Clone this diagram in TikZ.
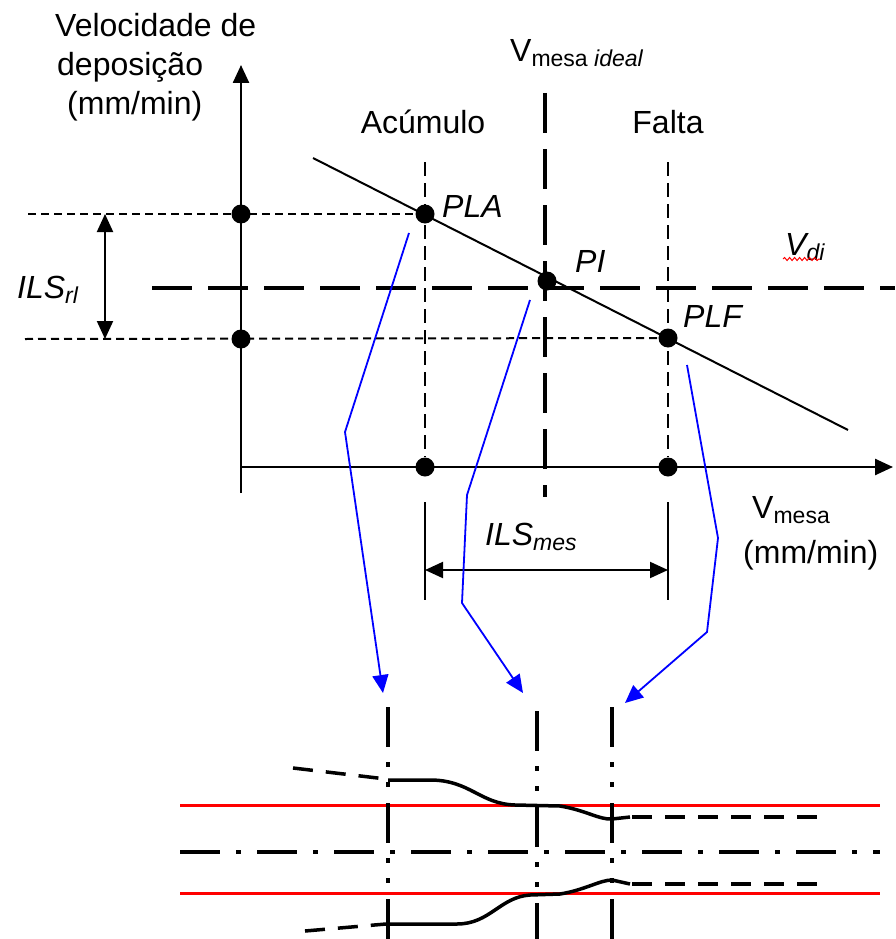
\documentclass[tikz,border=0pt]{standalone}
\usepackage{fontspec}
\setmainfont{Liberation Sans}
\usepackage{tikz}
\usetikzlibrary{arrows.meta, positioning, decorations.pathmorphing}
\newcommand{\lsub}[1]{\raisebox{-5pt}{\fontsize{23}{23}\selectfont #1}}
\tikzset{
  txt/.style={font=\fontsize{32}{38}\selectfont, inner sep=0pt, anchor=base west},
  itxt/.style={txt, font=\fontsize{32}{38}\selectfont\itshape},
  bullet/.style={circle, fill=black, inner sep=0pt, minimum size=19pt},
  ax/.style={line width=2.5pt, ->},
  hdash/.style={line width=2pt, dash pattern=on 8pt off 5pt},
  vdash/.style={line width=2pt, dash pattern=on 14pt off 7pt},
  ldash/.style={line width=4.5pt, dash pattern=on 40pt off 16pt},
  dimarr/.style={line width=2pt, <->},
  blarr/.style={blue, line width=1.8pt, ->},
  ddot/.style={line width=3.5pt, dash pattern=on 40pt off 15pt on 5pt off 15pt on 5pt off 16pt},
  cline/.style={line width=4pt, dash pattern=on 40pt off 16pt on 5pt off 16pt},
  tol/.style={red, line width=3pt},
  prof/.style={line width=3.5pt},
  pdash/.style={line width=3.5pt, dash pattern=on 20pt off 13pt},
}

\begin{document}
\begin{tikzpicture}[x=1pt, y=-1pt, >={Triangle[length=18pt, width=16pt]}]
  \useasboundingbox (0,0) rectangle (895,939);
  % graph
  \coordinate (O) at (241,467);
  \coordinate (Ytop) at (241,65);
  \coordinate (Ybot) at (241,493);
  \coordinate (Xend) at (893,467);
  \coordinate (S0) at (313,158);
  \coordinate (S1) at (848,430);
  \draw[ax] (Ybot) -- (Ytop);
  \draw[ax] (O) -- (Xend);
  \draw[line width=2pt] (S0) -- (S1);
  \node[bullet] (Y1) at (241,214) {};
  \node[bullet] (Y2) at (241,339) {};
  \node[bullet] (PLA) at (425,214) {};
  \node[bullet] (PI) at (547,281) {};
  \node[bullet] (PLF) at (668,338) {};
  \node[bullet] (X1) at (425,467) {};
  \node[bullet] (X2) at (668,467) {};
  \coordinate (H1) at (28,214);
  \coordinate (H2) at (25,339);
  \coordinate (A0) at (425,162);
  \coordinate (F0) at (668,162);
  \draw[hdash] (H1) -- (PLA);
  \draw[hdash] (H2) -- (PLF);
  \draw[vdash] (A0) -- (X1);
  \draw[vdash] (F0) -- (X2);
  \coordinate (D0) at (152,288);
  \coordinate (D1) at (895,288);
  \coordinate (M0) at (545,93);
  \coordinate (M1) at (545,497);
  \draw[ldash] (D0) -- (D1);
  \draw[ldash] (M0) -- (M1);
  % dimensions
  \coordinate (R0) at (105,214);
  \coordinate (R1) at (105,339);
  \draw[dimarr] (R0) -- (R1);
  \coordinate (E1) at (425,502);
  \coordinate (E2) at (425,600);
  \coordinate (E3) at (668,502);
  \coordinate (E4) at (668,600);
  \draw[line width=1.5pt] (E1) -- (E2);
  \draw[line width=1.5pt] (E3) -- (E4);
  \coordinate (W0) at (425,570);
  \coordinate (W1) at (668,570);
  \draw[dimarr] (W0) -- (W1);
  % labels
  \node[txt] (tVel) at (55,37) {Velocidade de};
  \node[txt] (tDep) at (57,76) {deposição};
  \node[txt] (tMm) at (67,114) {(mm/min)};
  \node[txt, anchor=base] (tAc) at (423,133) {Acúmulo};
  \node[txt, anchor=base] (tFa) at (668,133) {Falta};
  \node[txt] (tVmi) at (510,62) {V\lsub{mesa \textit{ideal}}};
  \node[itxt] (tPLA) at (442,217) {PLA};
  \node[itxt] (tPI) at (575,272) {PI};
  \node[itxt] (tPLF) at (683,327) {PLF};
  \node[itxt] (tVdi) at (785,255) {V\lsub{di}};
  \node[itxt] (tILSrl) at (17,298) {ILS\lsub{rl}};
  \node[itxt] (tILSm) at (485,545) {ILS\lsub{mes}};
  \node[txt] (tVm) at (752,518) {V\lsub{mesa}};
  \node[txt] (tVmu) at (743,563) {(mm/min)};
  \draw[red, line width=1pt, decorate,
        decoration={snake, amplitude=1.5pt, segment length=5pt}] (783,259) -- (820,259);
  % blue arrows
  \coordinate (a0) at (409,233);
  \coordinate (a1) at (345,432);
  \coordinate (a2) at (383,693);
  \coordinate (b0) at (530,300);
  \coordinate (b1) at (467,495);
  \coordinate (b2) at (462,603);
  \coordinate (b3) at (523,693);
  \coordinate (c0) at (687,365);
  \coordinate (c1) at (718,538);
  \coordinate (c2) at (707,632);
  \coordinate (c3) at (625,703);
  \draw[blarr] (a0) -- (a1) -- (a2);
  \draw[blarr] (b0) -- (b1) -- (b2) -- (b3);
  \draw[blarr] (c0) -- (c1) -- (c2) -- (c3);
  % bead
  \foreach \y in {805,893}
    \draw[tol] (180,\y) -- (880,\y);
  \coordinate (C0) at (180,852);
  \coordinate (C1) at (880,852);
  \draw[cline] (C0) -- (C1);
  \foreach \x/\y in {388/707,537/711,612/707}
    \draw[ddot] (\x,\y) -- (\x,939);
  \draw[pdash] (293,768) -- (386,779);
  \draw[prof] (388,780) -- (430,780) .. controls (470,780) and (480,804) .. (515,805)
    -- (560,806) .. controls (585,810) and (600,820) .. (612,819) -- (630,817);
  \draw[pdash] (632,817) -- (830,817);
  \draw[pdash] (305,931) -- (386,924);
  \draw[prof] (388,924) -- (457,924) .. controls (490,924) and (500,897) .. (530,895)
    -- (560,894) .. controls (585,890) and (600,880) .. (612,880) -- (630,884);
  \draw[pdash] (632,884) -- (822,884);
\end{tikzpicture}
\end{document}
